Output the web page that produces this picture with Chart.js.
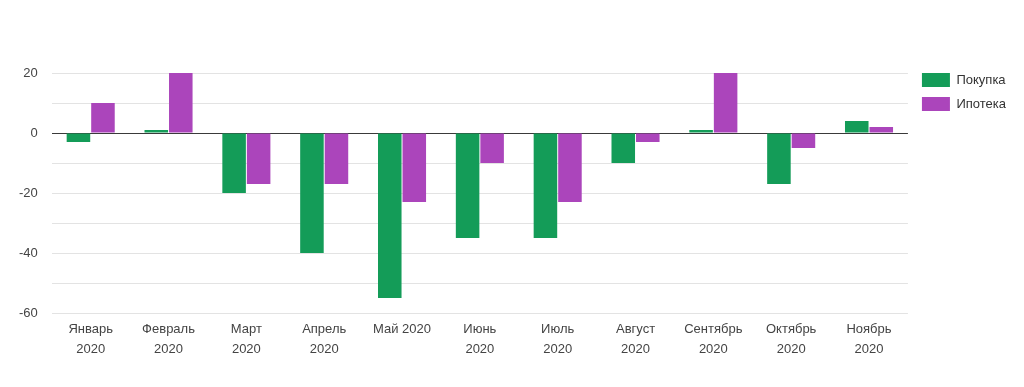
<!DOCTYPE html>
<html>
<head>
<meta charset="utf-8">
<script src="https://cdn.jsdelivr.net/npm/chart.js@4/dist/chart.umd.min.js"></script>
<style>
  html, body { margin: 0; padding: 0; background: #fff; }
  #wrap { width: 1024px; height: 387px; position: relative; }
</style>
</head>
<body>
<div id="wrap"><canvas id="c" width="1024" height="387"></canvas></div>
<script>
const categories = [
  ["Январь", "2020"], ["Февраль", "2020"], ["Март", "2020"], ["Апрель", "2020"],
  "Май 2020", ["Июнь", "2020"], ["Июль", "2020"], ["Август", "2020"],
  ["Сентябрь", "2020"], ["Октябрь", "2020"], ["Ноябрь", "2020"]
];
const purchase = [-3, 1, -20, -40, -55, -35, -35, -10, 1, -17, 4];
const mortgage = [10, 20, -17, -17, -23, -10, -23, -3, 20, -5, 2];
const yTickLabels = [20, 0, -20, -40, -60];

const FONT = "'Liberation Sans', Arial, sans-serif";
Chart.defaults.font.family = FONT;
Chart.defaults.font.size = 13;
Chart.defaults.color = '#444';

const legendShift = {
  id: 'legendShift',
  afterLayout(chart) {
    const lg = chart.legend;
    if (!lg) return;
    lg.top -= 10; lg.bottom -= 10;
    lg.left += 4; lg.right += 4;
  }
};

new Chart(document.getElementById('c'), {
  type: 'bar',
  data: {
    labels: categories,
    datasets: [
      { label: 'Покупка', data: purchase, backgroundColor: '#149c58', borderWidth: 0,
        categoryPercentage: 0.63, barPercentage: 0.96 },
      { label: 'Ипотека', data: mortgage, backgroundColor: '#ab45bb', borderWidth: 0,
        categoryPercentage: 0.63, barPercentage: 0.96 }
    ]
  },
  options: {
    responsive: false,
    animation: false,
    devicePixelRatio: 1,
    layout: { padding: { top: 73, left: 5, right: 12, bottom: 21 } },
    plugins: {
      legend: {
        position: 'right',
        align: 'start',
        labels: {
          boxWidth: 28, boxHeight: 14, padding: 10,
          color: '#333', font: { size: 13, family: FONT }
        }
      },
      tooltip: { enabled: false }
    },
    scales: {
      x: {
        grid: { display: false, drawTicks: false },
        border: { display: false },
        ticks: { padding: 7, color: '#444', font: { size: 13, lineHeight: 1.5 }, maxRotation: 0, autoSkip: false }
      },
      y: {
        min: -60, max: 20,
        border: { display: false },
        grid: {
          drawTicks: false,
          color: ctx => (ctx.tick && ctx.tick.value === 0) ? '#3a3a3a' : '#e3e3e3',
          lineWidth: 1
        },
        ticks: {
          stepSize: 10,
          padding: 14,
          color: '#444',
          callback: v => yTickLabels.includes(v) ? String(v) : ''
        }
      }
    }
  },
  plugins: [legendShift]
});
</script>
</body>
</html>
